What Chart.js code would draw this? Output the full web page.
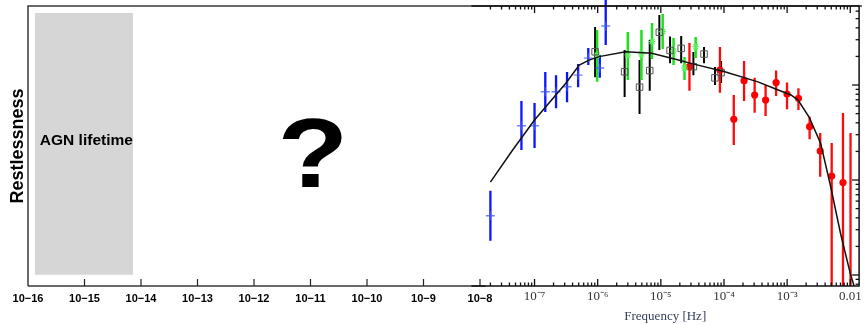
<!DOCTYPE html>
<html>
<head>
<meta charset="utf-8">
<script src="https://cdn.jsdelivr.net/npm/chart.js@4.4.1/dist/chart.umd.min.js"></script>
<style>
  html, body { margin: 0; padding: 0; background: #fff; }
  #wrap { position: relative; width: 865px; height: 325px; }
  #wrap canvas { position: absolute; left: 0; top: 0; }
</style>
</head>
<body>
<div id="wrap">
  <canvas id="longChart" width="865" height="325"></canvas>
  <canvas id="psdChart" width="865" height="325"></canvas>
</div>
<script>
// left panel: decades of frequency (log10 Hz)
const decades = [-16, -15, -14, -13, -12, -11, -10, -9, -8];
const agnSpan = [-15.88, -14.14];

// right panel: measured power spectrum
const blueFreq = [2.0e-8, 6.2e-8, 1.0e-7, 1.48e-7, 2.19e-7, 3.27e-7, 4.9e-7, 7.1e-7, 1.08e-6, 1.34e-6];
const blueVal  = [0.42, 3.73, 3.73, 8.5, 8.5, 9.6, 12.7, 19.2, 15.1, 41.8];
const blueLo   = [0.23, 2.07, 2.17, 5.2, 5.7, 6.6, 9.5, 16.2, 11.9, 26.4];
const blueHi   = [0.77, 6.8, 6.47, 13.7, 12.7, 13.7, 16.6, 24.5, 20.7, 80];

const squareFreq = [9.1e-7, 2.67e-6, 4.6e-6, 6.67e-6, 9.47e-6, 1.4e-5, 2.1e-5, 3.28e-5, 4.83e-5, 7.2e-5, 9.0e-5];
const squareVal  = [22.4, 13.8, 9.5, 14.2, 35.9, 23.1, 24.3, 15.6, 21.2, 11.9, 13.5];
const squareLo   = [12.1, 7.5, 4.95, 8.7, 23.4, 17, 17, 12.7, 17, 10, 10.5];
const squareHi   = [40.8, 23.4, 18.3, 29.8, 54.6, 32.4, 32.8, 22.3, 25.1, 15.5, 17.9];

const starFreq = [9.8e-7, 3.0e-6, 4.93e-6, 7.24e-6, 1.07e-5, 1.59e-5, 2.37e-5, 3.56e-5];
const starVal  = [20.7, 20.7, 21.2, 28.6, 36.4, 22.8, 15.1, 25.3];
const starLo   = [10.8, 11.3, 11.3, 18.8, 23.9, 16.2, 11.3, 19.2];
const starHi   = [37.9, 36.1, 37.9, 44.9, 55.9, 31.2, 19.7, 32];

const dotFreq = [2.84e-5, 8.63e-5, 1.43e-4, 2.08e-4, 3.06e-4, 4.56e-4, 6.69e-4, 9.96e-4, 1.51e-3, 2.27e-3, 3.34e-3, 5.08e-3, 7.67e-3, 1.01e-2];
const dotVal  = [15.6, 14.4, 4.35, 11.1, 7.85, 6.95, 10.6, 8.04, 7.24, 3.64, 2.02, 1.1, 0.94, 0.03];
const dotLo   = [8.7, 8.3, 2.33, 6.8, 5.1, 4.72, 7.66, 5.55, 5.46, 2.68, 1.08, 0.01, 0.01, 0.01];
const dotHi   = [27.7, 25.1, 7.85, 17.9, 11.9, 10, 14.2, 10.6, 9.23, 4.64, 3.12, 2.45, 5.07, 3.12];

const modelFreq = [2.0e-8, 4.5e-8, 1.0e-7, 3.15e-7, 5.1e-7, 7.3e-7, 1.05e-6, 2.77e-6, 7.2e-6, 1.9e-5, 3.0e-5,
                   1.03e-4, 3.45e-4, 6.3e-4, 1.15e-3, 1.49e-3, 2.24e-3, 3.4e-3, 4.9e-3, 7.0e-3, 1.0e-2, 1.15e-2];
const modelVal  = [0.95, 2.07, 4.28, 10.5, 16.2, 18.3, 19.9, 22.4, 21.6, 18.3, 16.9,
                   13.8, 10.8, 9.2, 7.85, 6.95, 4.57, 2.43, 0.85, 0.275, 0.104, 0.0766];

const xyPairs = (xs, ys) => xs.map((x, i) => ({x: x, y: ys[i]}));
const SANS = '"Liberation Sans", Arial, sans-serif';
const SERIF = '"Liberation Serif", "Times New Roman", serif';

// frame, inward ticks and the two notes on the left panel
const leftDecor = {
  id: 'leftDecor',
  afterDatasetsDraw(chart) {
    const {ctx, chartArea: a, scales: {x, y}} = chart;
    ctx.save();
    ctx.strokeStyle = '#3a3a3a';
    ctx.lineWidth = 1.5;
    ctx.beginPath();
    ctx.moveTo(a.left, a.bottom); ctx.lineTo(a.left, a.top); ctx.lineTo(a.right, a.top);
    ctx.moveTo(a.left, a.bottom); ctx.lineTo(x.getPixelForValue(-7.9), a.bottom);
    ctx.stroke();
    ctx.lineWidth = 1.2;
    ctx.strokeStyle = '#222';
    decades.slice(1).forEach(d => {
      const px = x.getPixelForValue(d);
      ctx.beginPath(); ctx.moveTo(px, a.bottom); ctx.lineTo(px, a.bottom - 7); ctx.stroke();
    });
    ctx.fillStyle = '#000';
    ctx.font = 'bold 15.5px ' + SANS;
    ctx.textBaseline = 'middle';
    ctx.fillText('AGN lifetime', x.getPixelForValue(-15.79), y.getPixelForValue(0.52));
    // the big question mark, a little wider than the plain glyph
    ctx.translate(x.getPixelForValue(-10.96), y.getPixelForValue(0.355));
    ctx.scale(1.17, 1);
    ctx.font = 'bold 99px ' + SANS;
    ctx.textAlign = 'center';
    ctx.textBaseline = 'alphabetic';
    ctx.fillText('?', 0, 0);
    ctx.restore();
  }
};

new Chart(document.getElementById('longChart'), {
  type: 'line',
  data: {
    datasets: [{
      data: [{x: agnSpan[0], y: 0.975}, {x: agnSpan[1], y: 0.975}],
      fill: {value: 0.04},
      backgroundColor: '#d6d6d6',
      borderWidth: 0,
      pointRadius: 0
    }]
  },
  options: {
    responsive: false,
    animation: false,
    layout: {padding: {left: 0, right: 3, top: 6, bottom: 0}},
    plugins: {legend: {display: false}, tooltip: {enabled: false}},
    scales: {
      x: {
        type: 'linear', min: -16, max: -16 + 834 / 56.5,
        grid: {display: false, drawTicks: false},
        border: {display: false},
        afterBuildTicks: s => { s.ticks = decades.map(v => ({value: v})); },
        afterFit: s => { s.height = 39; },
        ticks: {
          autoSkip: false, maxRotation: 0, padding: 6,
          color: '#000', font: {family: SANS, size: 11, weight: 'bold'},
          callback: v => '10\u2212' + Math.abs(v)
        }
      },
      y: {
        type: 'linear', min: 0, max: 1,
        grid: {display: false, drawTicks: false},
        border: {display: false},
        ticks: {display: false},
        afterFit: s => { s.width = 28; },
        title: {
          display: true, text: 'Restlessness', color: '#000',
          font: {family: SANS, size: 18, weight: 'bold'},
          padding: {top: 7, bottom: 0}
        }
      }
    }
  },
  plugins: [leftDecor]
});

// vertical error bars, drawn under the markers
const errorBars = {
  id: 'errorBars',
  beforeDatasetsDraw(chart) {
    const {ctx, chartArea: a, scales: {x, y}} = chart;
    ctx.save();
    ctx.beginPath();
    ctx.rect(a.left, 0, a.right - a.left, a.bottom);
    ctx.clip();
    chart.data.datasets.forEach(ds => {
      if (!ds.errLo) return;
      ctx.strokeStyle = ds.errColor;
      ctx.lineWidth = ds.errWidth;
      ds.data.forEach((p, i) => {
        const px = x.getPixelForValue(p.x);
        ctx.beginPath();
        ctx.moveTo(px, y.getPixelForValue(ds.errLo[i]));
        ctx.lineTo(px, y.getPixelForValue(ds.errHi[i]));
        ctx.stroke();
      });
    });
    ctx.restore();
  }
};

// frame and inward log ticks of the right panel
const logTicks = (min, max) => {
  const out = [];
  for (let e = Math.floor(Math.log10(min)); e <= Math.ceil(Math.log10(max)); e++) {
    for (let k = 1; k < 10; k++) {
      const v = k * Math.pow(10, e);
      if (v > min * 1.001 && v < max) out.push({v: v, major: k === 1});
    }
  }
  return out;
};
const rightFrame = {
  id: 'rightFrame',
  afterDraw(chart) {
    const {ctx, chartArea: a, scales: {x, y}} = chart;
    ctx.save();
    ctx.strokeStyle = '#111';
    ctx.lineWidth = 1.5;
    ctx.beginPath();
    ctx.moveTo(a.left, a.top); ctx.lineTo(a.right, a.top); ctx.lineTo(a.right, a.bottom); ctx.lineTo(a.left, a.bottom);
    ctx.stroke();
    ctx.lineWidth = 1.3;
    logTicks(x.min, x.max).forEach(t => {
      const px = x.getPixelForValue(t.v), len = t.major ? 7 : 3.5;
      ctx.beginPath();
      ctx.moveTo(px, a.bottom); ctx.lineTo(px, a.bottom - len);
      ctx.moveTo(px, a.top); ctx.lineTo(px, a.top + len);
      ctx.stroke();
    });
    logTicks(y.min, y.max).forEach(t => {
      const py = y.getPixelForValue(t.v), len = t.major ? 7 : 3.5;
      ctx.beginPath(); ctx.moveTo(a.right, py); ctx.lineTo(a.right - len, py); ctx.stroke();
    });
    ctx.restore();
  }
};

const supers = {'-': '\u207b', '0': '\u2070', '1': '\u00b9', '2': '\u00b2', '3': '\u00b3', '4': '\u2074',
                '5': '\u2075', '6': '\u2076', '7': '\u2077', '8': '\u2078', '9': '\u2079'};

new Chart(document.getElementById('psdChart'), {
  type: 'scatter',
  data: {
    datasets: [
      {
        type: 'line', data: xyPairs(modelFreq, modelVal),
        borderColor: '#111', borderWidth: 1.5, pointRadius: 0, tension: 0, fill: false
      },
      {
        data: xyPairs(squareFreq, squareVal), errLo: squareLo, errHi: squareHi,
        errColor: '#000', errWidth: 2,
        pointStyle: 'rect', pointRadius: 4.6, borderColor: '#555', borderWidth: 1, backgroundColor: 'rgba(0,0,0,0)'
      },
      {
        data: xyPairs(starFreq, starVal), errLo: starLo, errHi: starHi,
        errColor: '#1ee01e', errWidth: 2.5,
        pointStyle: 'star', pointRadius: 3.5, borderColor: '#5ef05e', borderWidth: 1.2
      },
      {
        data: xyPairs(blueFreq, blueVal), errLo: blueLo, errHi: blueHi,
        errColor: '#0a14ff', errWidth: 2.3,
        pointStyle: 'cross', pointRadius: 4.5, borderColor: 'rgba(70,90,255,0.75)', borderWidth: 1.4
      },
      {
        data: xyPairs(dotFreq, dotVal), errLo: dotLo, errHi: dotHi,
        errColor: '#ff0a0a', errWidth: 2.3,
        pointStyle: 'circle', pointRadius: 3.6, borderWidth: 0, backgroundColor: '#ff0000'
      }
    ]
  },
  options: {
    responsive: false,
    animation: false,
    layout: {padding: {left: 471.4, right: 3, top: 6, bottom: 0}},
    plugins: {legend: {display: false}, tooltip: {enabled: false}},
    scales: {
      x: {
        type: 'logarithmic', min: 1e-8, max: 0.0138,
        grid: {display: false, drawTicks: false},
        border: {display: false},
        afterBuildTicks: s => { s.ticks = [1e-7, 1e-6, 1e-5, 1e-4, 1e-3, 1e-2].map(v => ({value: v})); },
        afterFit: s => { s.height = 39; },
        ticks: {
          autoSkip: false, maxRotation: 0, padding: 3,
          color: '#333', font: {family: SERIF, size: 13},
          callback: v => {
            const e = Math.round(Math.log10(v));
            if (e === -2) return '0.01';
            return '10' + String(e).split('').map(c => supers[c]).join('');
          }
        },
        title: {
          display: true, text: 'Frequency [Hz]', color: '#343d56',
          font: {family: SERIF, size: 13},
          padding: {top: 0, bottom: 1}
        }
      },
      y: {
        type: 'logarithmic', position: 'right', min: 0.0766, max: 67.9,
        grid: {display: false, drawTicks: false},
        border: {display: false},
        ticks: {display: false},
        afterFit: s => { s.width = 0; }
      }
    }
  },
  plugins: [errorBars, rightFrame]
});
</script>
</body>
</html>
